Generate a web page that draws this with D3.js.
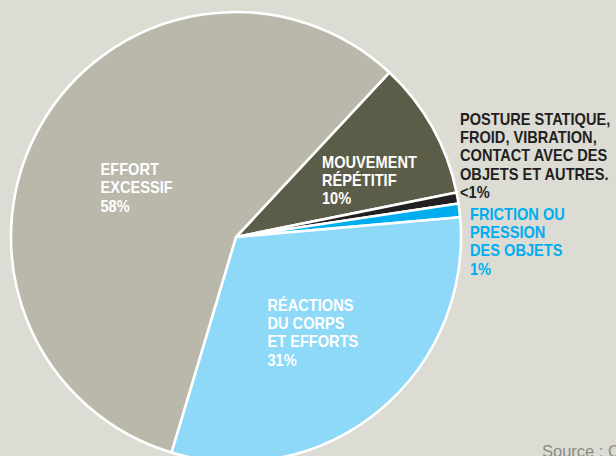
<!DOCTYPE html>
<html>
<head>
<meta charset="utf-8">
<script src="https://cdn.jsdelivr.net/npm/d3@7/dist/d3.min.js"></script>
<style>
  html, body { margin: 0; padding: 0; background: #dcdcd5; }
  svg { display: block; }
  text { font-family: "Liberation Sans", Arial, sans-serif; }
</style>
</head>
<body>
<svg id="chart" width="616" height="456"></svg>
<script>
// ---- data ----
const categories = [
  ["MOUVEMENT", "RÉPÉTITIF"],
  ["POSTURE STATIQUE,", "FROID, VIBRATION,", "CONTACT AVEC DES", "OBJETS ET AUTRES."],
  ["FRICTION OU", "PRESSION", "DES OBJETS"],
  ["RÉACTIONS", "DU CORPS", "ET EFFORTS"],
  ["EFFORT", "EXCESSIF"]
];
const values = [10, 0.8, 1, 31.4, 58];
const valueLabels = ["10%", "<1%", "1%", "31%", "58%"];
const colors = ["#5c5d48", "#231f20", "#00aeef", "#8ed8f8", "#b9b8aa"];
const textColors = ["#ffffff", "#231f20", "#00aeef", "#ffffff", "#ffffff"];
const sourceText = "Source : CNESST";

// ---- layout ----
const W = 616, H = 456;
const cx = 236, cy = 237, R = 225;
const start = 43 * Math.PI / 180;
const labelPos = [[322, 167.5], [460, 124.7], [470, 219.7], [267.5, 310.7], [100.5, 175]];
const lineH = 18.4;

const svg = d3.select("#chart");
svg.append("rect").attr("width", W).attr("height", H).attr("fill", "#dcdcd5");

const pie = d3.pie().sort(null).value(d => d).startAngle(start).endAngle(start + 2 * Math.PI);
const arc = d3.arc().innerRadius(0).outerRadius(R);
const arcs = pie(values);

const g = svg.append("g").attr("transform", `translate(${cx},${cy})`);
g.selectAll("path").data(arcs).join("path")
  .attr("d", arc)
  .attr("fill", (d, i) => colors[i])
  .attr("stroke", "#ffffff")
  .attr("stroke-width", 2.6)
  .attr("stroke-linejoin", "round");

// labels
categories.forEach((lines, i) => {
  const all = lines.concat([valueLabels[i]]);
  const t = svg.append("text")
    .attr("transform", `translate(${labelPos[i][0]},${labelPos[i][1]}) scale(0.89,1)`)
    .attr("fill", textColors[i])
    .attr("font-size", 16.4)
    .attr("font-weight", "bold");
  all.forEach((s, j) => {
    t.append("tspan").attr("x", 0).attr("y", j * lineH).text(s);
  });
});

svg.append("text")
  .attr("x", 542)
  .attr("y", 457)
  .attr("fill", "#8b8b84")
  .attr("font-size", 16.5)
  .text(sourceText);
</script>
</body>
</html>
